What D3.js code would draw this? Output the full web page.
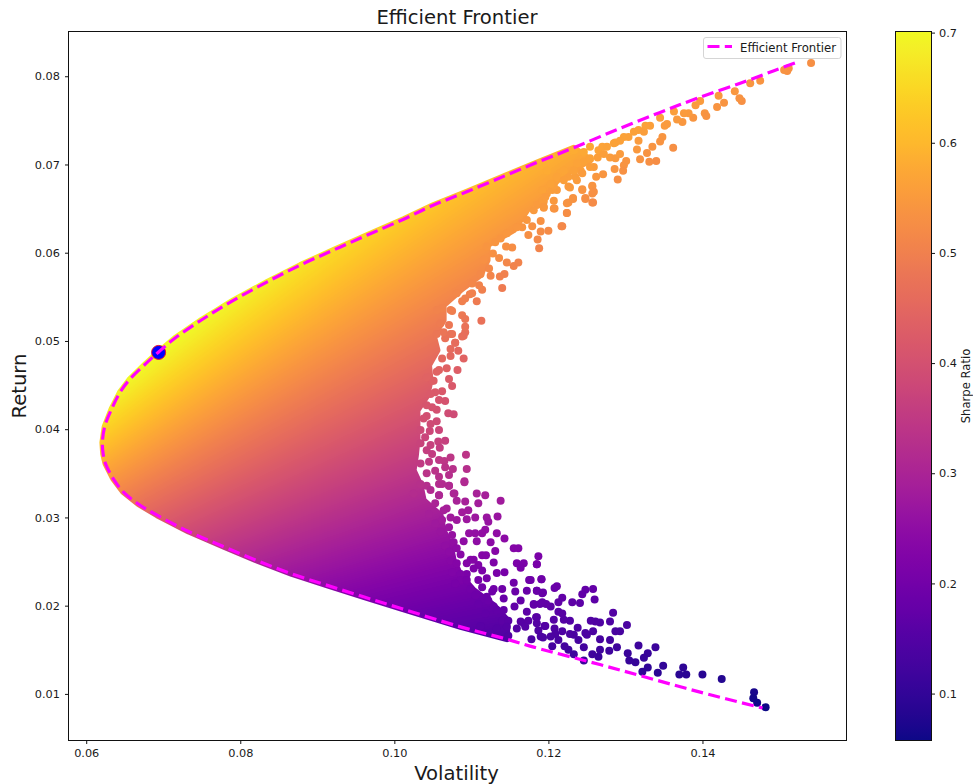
<!DOCTYPE html>
<html><head><meta charset="utf-8">
<script src="https://cdn.jsdelivr.net/npm/d3@7/dist/d3.min.js"></script>
<style>
html,body{margin:0;padding:0;background:#fff}
svg{display:block}
text{font-family:"DejaVu Sans",sans-serif;fill:#1a1a1a}
</style></head><body>
<svg id="c" width="973" height="784"></svg>
<script>
const xTicks=[0.06,0.08,0.10,0.12,0.14];
const yTicks=[0.01,0.02,0.03,0.04,0.05,0.06,0.07,0.08];
const cTicks=[0.1,0.2,0.3,0.4,0.5,0.6,0.7];
const maxSharpe=[0.0694,0.0487];
const frontierVol=[0.1520,0.1492,0.1449,0.1393,0.1345,0.1289,0.1233,0.1190,0.1146,0.1094,0.1051,0.1012,0.0965,0.0921,0.0878,0.0835,0.0791,0.0750,0.0715,0.0694,0.0677,0.0657,0.0644,0.0633,0.0624,0.0621,0.0622,0.0625,0.0635,0.0648,0.0668,0.0692,0.0733,0.0778,0.0822,0.0867,0.0913,0.0960,0.1008,0.1086,0.1146,0.1181,0.1268,0.1322,0.1397,0.1478];
const frontierRet=[0.0815,0.0806,0.0792,0.0775,0.0759,0.07395,0.0719,0.0704,0.0688,0.0669,0.0654,0.0638,0.0620,0.0603,0.0586,0.0567,0.0546,0.0524,0.0503,0.04875,0.0474,0.0457,0.0442,0.0423,0.0403,0.0385,0.0372,0.0361,0.0344,0.0329,0.0315,0.03025,0.0284,0.0267,0.0251,0.0236,0.0223,0.0210,0.0197,0.0176,0.0162,0.0153,0.0133,0.0120,0.0102,0.0084];
const denseEdgeVol=[0.1147,0.1129,0.1103,0.1086,0.1077,0.1073,0.1064,0.1060,0.1038,0.1034,0.1025,0.1028,0.1030,0.1030,0.1030,0.1043,0.1047,0.1045,0.1056,0.1051,0.1064,0.1064,0.1086,0.1112,0.1121,0.1121,0.1155,0.1168,0.1181,0.1199,0.1219,0.1255];
const denseEdgeRet=[0.01835,0.02005,0.02175,0.02345,0.02515,0.02685,0.02855,0.03025,0.03195,0.03365,0.03535,0.03705,0.03875,0.04045,0.04215,0.04385,0.04555,0.04725,0.04895,0.05065,0.05235,0.05405,0.05575,0.05745,0.05915,0.06085,0.06255,0.06425,0.06595,0.06708,0.0688,0.0705];
const pointsLowerRight=[[0.1482,0.0085],[0.1467,0.0102],[0.1466,0.0095],[0.1471,0.0090],[0.1425,0.0117],[0.1400,0.0122],[0.1375,0.0130],[0.1370,0.0122],[0.1379,0.0122],[0.1349,0.0132],[0.1342,0.0124],[0.1329,0.0130],[0.1322,0.0125],[0.1339,0.0153],[0.1329,0.0146],[0.1324,0.0141],[0.1317,0.0155],[0.1313,0.0136],[0.1305,0.0138],[0.1303,0.0146],[0.1289,0.0153],[0.1279,0.0149],[0.1302,0.0178],[0.1293,0.0171],[0.1287,0.0171],[0.1280,0.0161],[0.1280,0.0182],[0.1284,0.0192],[0.1267,0.0181],[0.1261,0.0182],[0.1255,0.0183],[0.1267,0.0162],[0.1258,0.0171],[0.1250,0.0167],[0.1248,0.0169],[0.1267,0.0150],[0.1265,0.0142],[0.1257,0.0145],[0.1246,0.0138],[0.1246,0.0153],[0.1239,0.0161],[0.1238,0.0175],[0.1233,0.0167],[0.1228,0.0168],[0.1233,0.0145],[0.1226,0.0150],[0.1221,0.0154],[0.1205,0.0154],[0.1228,0.0183],[0.1220,0.0184],[0.1213,0.0193],[0.1218,0.0191],[0.1207,0.0184],[0.1208,0.0174],[0.1218,0.0171],[0.1209,0.0168],[0.1213,0.0161],[0.1203,0.0165],[0.1193,0.0164],[0.1195,0.0177],[0.1187,0.0172],[0.1184,0.0187],[0.1185,0.0180],[0.1178,0.0162],[0.1231,0.0204],[0.1241,0.0203],[0.1260,0.0207],[0.1258,0.0219],[0.1248,0.0218],[0.1244,0.0213],[0.1213,0.0204],[0.1218,0.0209],[0.1203,0.0199],[0.1197,0.0202],[0.1189,0.0202],[0.1181,0.0201],[0.1208,0.0220],[0.1211,0.0222],[0.1193,0.0215],[0.1185,0.0217],[0.1191,0.0230],[0.1185,0.0247],[0.1177,0.0229]];
const pointsLowerMiddle=[[0.1091,0.0340],[0.1071,0.0336],[0.1058,0.0338],[0.1077,0.0327],[0.1081,0.0319],[0.1107,0.0327],[0.1118,0.0325],[0.1109,0.0316],[0.1105,0.0300],[0.1138,0.0319],[0.1134,0.0301],[0.1120,0.0300],[0.1122,0.0295],[0.1092,0.0318],[0.1096,0.0308],[0.1088,0.0306],[0.1068,0.0310],[0.1081,0.0297],[0.1094,0.0298],[0.1133,0.0282],[0.1143,0.0276],[0.1118,0.0286],[0.1114,0.0282],[0.1097,0.0282],[0.1105,0.0282],[0.1090,0.0273],[0.1107,0.0273],[0.1125,0.0272],[0.1075,0.0280],[0.1131,0.0262],[0.1155,0.0265],[0.1161,0.0265],[0.1086,0.0258],[0.1114,0.0257],[0.1119,0.0257],[0.1129,0.0249],[0.1099,0.0252],[0.1094,0.0248],[0.1075,0.0238],[0.1094,0.0236],[0.1109,0.0246],[0.1103,0.0242],[0.1114,0.0240],[0.1133,0.0237],[0.1143,0.0238],[0.1159,0.0248],[0.1168,0.0248],[0.1164,0.0243],[0.1187,0.0256],[0.1185,0.0247],[0.1175,0.0229],[0.1191,0.0230],[0.1120,0.0231],[0.1109,0.0229],[0.1155,0.0226],[0.1140,0.0219],[0.1172,0.0217],[0.1185,0.0217],[0.1192,0.0214],[0.1157,0.0216],[0.1164,0.0206],[0.1142,0.0208],[0.1181,0.0202],[0.1192,0.0204],[0.1127,0.0216],[0.1120,0.0210],[0.1129,0.0199],[0.1156,0.0199],[0.1172,0.0193],[0.1142,0.0195],[0.1185,0.0187],[0.1196,0.0177],[0.1164,0.0182],[0.1168,0.0180],[0.1174,0.0183],[0.1112,0.0177],[0.1133,0.0174],[0.1159,0.0174],[0.1190,0.0165],[0.1148,0.0166],[0.1042,0.0336],[0.1058,0.0325],[0.1053,0.0316],[0.1064,0.0308],[0.1045,0.0304],[0.1073,0.0300],[0.1062,0.0297],[0.1053,0.0293],[0.1060,0.0284],[0.1071,0.0289],[0.1077,0.0272],[0.1066,0.0268],[0.1071,0.0261],[0.1081,0.0265],[0.1073,0.0251],[0.1081,0.0248],[0.1086,0.0236],[0.1103,0.0252],[0.1086,0.0229],[0.1079,0.0225],[0.1094,0.0229],[0.1099,0.0219],[0.1105,0.0212],[0.1114,0.0221],[0.1109,0.0202],[0.1122,0.0206],[0.1129,0.0219],[0.1133,0.0195],[0.1118,0.0191],[0.1140,0.0183],[0.1148,0.0183],[0.1146,0.0176],[0.1170,0.0176]];
const pointsWaist=[[0.1092,0.0510],[0.1088,0.0505],[0.1075,0.0508],[0.1066,0.0503],[0.1079,0.0498],[0.1073,0.0491],[0.1083,0.0489],[0.1090,0.0480],[0.1073,0.0483],[0.1062,0.0480],[0.1082,0.0467],[0.1068,0.0469],[0.1055,0.0465],[0.1071,0.0457],[0.1051,0.0455],[0.1075,0.0449],[0.1062,0.0443],[0.1066,0.0432],[0.1058,0.0433],[0.1070,0.0418],[0.1077,0.0417],[0.1055,0.0422],[0.1055,0.0409],[0.1042,0.0415],[0.1058,0.0399],[0.1046,0.0398],[0.1066,0.0387],[0.1057,0.0386],[0.1059,0.0379],[0.1047,0.0382],[0.1093,0.0371],[0.1073,0.0368],[0.1065,0.0364],[0.1058,0.0365],[0.1094,0.0355],[0.1076,0.0355],[0.1066,0.0357],[0.1071,0.0348],[0.1091,0.0341],[0.1071,0.0336],[0.1078,0.0327],[0.1058,0.0467],[0.1049,0.0455],[0.1042,0.0459],[0.1053,0.0442],[0.1047,0.0440],[0.1049,0.0425],[0.1042,0.0427],[0.1038,0.0412],[0.1047,0.0406],[0.1034,0.0399],[0.1040,0.0391],[0.1034,0.0384],[0.1042,0.0376],[0.1049,0.0372],[0.1034,0.0361],[0.1045,0.0363],[0.1053,0.0353],[0.1058,0.0346],[0.1042,0.0350],[0.1062,0.0338],[0.1047,0.0331],[0.1058,0.0325],[0.1034,0.0338],[0.1025,0.0327]];
const pointsUpperMiddle=[[0.1113,0.0523],[0.1088,0.0529],[0.1092,0.0525],[0.1092,0.0516],[0.1090,0.0506],[0.1079,0.0498],[0.1071,0.0518],[0.1064,0.0510],[0.1073,0.0508],[0.1062,0.0537],[0.1075,0.0534],[0.1088,0.0545],[0.1107,0.0545],[0.1098,0.0553],[0.1114,0.0558],[0.1140,0.0560],[0.1125,0.0574],[0.1137,0.0573],[0.1143,0.0576],[0.1123,0.0582],[0.1110,0.0563],[0.1101,0.0565],[0.1155,0.0585],[0.1161,0.0589],[0.1146,0.0589],[0.1136,0.0594],[0.1128,0.0599],[0.1153,0.0606],[0.1145,0.0607],[0.1188,0.0605],[0.1186,0.0615],[0.1174,0.0620],[0.1190,0.0624],[0.1200,0.0625],[0.1179,0.0630],[0.1190,0.0636],[0.1217,0.0630],[0.1166,0.0629],[0.1224,0.0645],[0.1207,0.0650],[0.1226,0.0657],[0.1232,0.0661],[0.1194,0.0651],[0.1190,0.0656],[0.1185,0.0654],[0.1257,0.0657],[0.1248,0.0662],[0.1257,0.0667],[0.1244,0.0672],[0.1257,0.0675],[0.1226,0.0675],[0.1237,0.0682],[0.1211,0.0671],[0.1198,0.0673],[0.1120,0.0607],[0.1131,0.0612],[0.1138,0.0616],[0.1146,0.0622],[0.1159,0.0629],[0.1172,0.0637],[0.1181,0.0648],[0.1194,0.0658],[0.1198,0.0667],[0.1116,0.0592],[0.1112,0.0576],[0.1101,0.0554],[0.1092,0.0548],[0.1081,0.0554],[0.1073,0.0535],[0.1055,0.0535],[0.1060,0.0520],[0.1055,0.0508]];
const pointsTopRight=[[0.1541,0.0815],[0.1510,0.0806],[0.1512,0.0809],[0.1506,0.0807],[0.1475,0.0795],[0.1462,0.0792],[0.1442,0.0783],[0.1451,0.0772],[0.1448,0.0775],[0.1428,0.0770],[0.1419,0.0765],[0.1421,0.0778],[0.1397,0.0772],[0.1391,0.0767],[0.1403,0.0758],[0.1405,0.0755],[0.1388,0.0753],[0.1382,0.0758],[0.1376,0.0758],[0.1374,0.0748],[0.1367,0.0751],[0.1354,0.0746],[0.1351,0.0744],[0.1363,0.0760],[0.1345,0.0753],[0.1332,0.0744],[0.1348,0.0731],[0.1345,0.0726],[0.1335,0.0720],[0.1362,0.0719],[0.1328,0.0713],[0.1319,0.0706],[0.1340,0.0704],[0.1331,0.0703],[0.1301,0.0704],[0.1298,0.0699],[0.1286,0.0695],[0.1297,0.0693],[0.1290,0.0683],[0.1271,0.0689],[0.1262,0.0686],[0.1259,0.0697],[0.1257,0.0676],[0.1259,0.0669],[0.1248,0.0661],[0.1258,0.0657],[0.1232,0.0662],[0.1224,0.0656],[0.1208,0.0650],[0.1224,0.0645],[0.1218,0.0630],[0.1317,0.0727],[0.1315,0.0717],[0.1317,0.0739],[0.1324,0.0737],[0.1311,0.0737],[0.1298,0.0731],[0.1287,0.0725],[0.1280,0.0708],[0.1287,0.0707],[0.1293,0.0712],[0.1264,0.0708],[0.1254,0.0720],[0.1242,0.0693],[0.1246,0.0714],[0.1233,0.0716],[0.1270,0.0720],[0.1235,0.0686],[0.1228,0.0674],[0.1244,0.0671],[0.1205,0.0671],[0.1207,0.0676],[0.1192,0.0659],[0.1265,0.0716],[0.1276,0.0720],[0.1285,0.0724],[0.1293,0.0727],[0.1304,0.0731],[0.1326,0.0744],[0.1246,0.0703],[0.1254,0.0707],[0.1272,0.0712],[0.1237,0.0701],[0.1226,0.0686],[0.1215,0.0690],[0.1254,0.0697],[0.1198,0.0693],[0.1211,0.0686],[0.1220,0.0693],[0.1203,0.0678],[0.1192,0.0671],[0.1196,0.0663],[0.1207,0.0659],[0.1194,0.0652],[0.1220,0.0682],[0.1233,0.0693],[0.1244,0.0690]];

const W=973,H=784;
const plot={l:68.5,r:846.5,t:31.5,b:740.5};
const x=d3.scaleLinear().domain([0.0577,0.1587]).range([plot.l,plot.r]);
const y=d3.scaleLinear().domain([0.00472,0.08507]).range([plot.b,plot.t]);
const cDomain=[0.0574,0.701];
const color=d3.scaleSequential(d3.interpolatePlasma).domain(cDomain);
const cy=d3.scaleLinear().domain(cDomain).range([740.5,31.5]);
const sharpe=(vol,ret)=>ret/vol;

const svg=d3.select("#c");
const defs=svg.append("defs");

// dense body of the cloud: outline, coloured by return / volatility
const n0=frontierVol.indexOf(0.1233), n1=frontierVol.lastIndexOf(0.1146);
const outline=[];
frontierVol.forEach((v,i)=>{ if(i>=n0&&i<=n1) outline.push([v,frontierRet[i]]); });
denseEdgeVol.forEach((v,i)=>outline.push([v,denseEdgeRet[i]]));
const lineGen=d3.line().x(d=>x(d[0])).y(d=>y(d[1]));
defs.append("mask").attr("id","bodyMask").attr("maskUnits","userSpaceOnUse")
  .attr("x",0).attr("y",0).attr("width",W).attr("height",H)
  .append("path").attr("d",lineGen(outline)+"Z")
  .attr("fill","#fff").attr("stroke","#fff").attr("stroke-width",6).attr("stroke-linejoin","round");

const cv=document.createElement("canvas"); cv.width=W; cv.height=H;
const g2=cv.getContext("2d"); const im=g2.createImageData(W,H);
const lut=d3.range(512).map(i=>{const c=d3.rgb(d3.interpolatePlasma(i/511));return [c.r,c.g,c.b];});
for(let py=Math.floor(plot.t);py<plot.b;py++){for(let px=Math.floor(plot.l);px<plot.r;px++){
  const s=sharpe(x.invert(px+.5),y.invert(py+.5));
  const t=Math.max(0,Math.min(1,(s-cDomain[0])/(cDomain[1]-cDomain[0])));
  const c=lut[Math.round(t*511)],k=(py*W+px)*4;
  im.data[k]=c[0];im.data[k+1]=c[1];im.data[k+2]=c[2];im.data[k+3]=255;
}}
g2.putImageData(im,0,0);
svg.append("image").attr("href",cv.toDataURL()).attr("x",0).attr("y",0).attr("width",W).attr("height",H).attr("mask","url(#bodyMask)");

// individually visible portfolios
const points=[].concat(pointsLowerRight,pointsLowerMiddle,pointsWaist,pointsUpperMiddle,pointsTopRight);
svg.append("g").selectAll("circle").data(points).join("circle")
  .attr("cx",d=>x(d[0])).attr("cy",d=>y(d[1])).attr("r",4)
  .attr("fill",d=>color(sharpe(d[0],d[1])));

// max sharpe marker
svg.append("circle").attr("cx",x(maxSharpe[0])).attr("cy",y(maxSharpe[1])).attr("r",7)
  .attr("fill","#0000ff").attr("stroke","#e8102a").attr("stroke-width",1);

// frontier
const fl=d3.line().x((d,i)=>x(d)).y((d,i)=>y(frontierRet[i])).curve(d3.curveCatmullRom);
svg.append("path").attr("d",fl(frontierVol)).attr("fill","none").attr("stroke","#ff00ff")
  .attr("stroke-width",3.2).attr("stroke-dasharray","12,5.3");

// axes
function styleAxis(g){g.selectAll("text").style("font-size","11.3px").attr("fill","#1a1a1a");g.selectAll("line").attr("stroke","#111");g.select(".domain").remove();}
svg.append("g").attr("transform",`translate(0,${plot.b})`)
  .call(d3.axisBottom(x).tickValues(xTicks).tickFormat(d3.format(".2f")).tickSize(3.5).tickPadding(5)).call(styleAxis);
svg.append("g").attr("transform",`translate(${plot.l},0)`)
  .call(d3.axisLeft(y).tickValues(yTicks).tickFormat(d3.format(".2f")).tickSize(3.5).tickPadding(5)).call(styleAxis);
svg.append("rect").attr("x",plot.l).attr("y",plot.t).attr("width",plot.r-plot.l).attr("height",plot.b-plot.t)
  .attr("fill","none").attr("stroke","#111").attr("stroke-width",1);

svg.append("text").attr("x",457).attr("y",24).attr("text-anchor","middle").style("font-size","19.6px").text("Efficient Frontier");
svg.append("text").attr("x",456.5).attr("y",780).attr("text-anchor","middle").style("font-size","19.6px").text("Volatility");
svg.append("text").attr("transform","translate(25.5,386) rotate(-90)").attr("text-anchor","middle").style("font-size","19.6px").text("Return");

// legend
const lg=svg.append("g");
lg.append("rect").attr("x",703.5).attr("y",37.5).attr("width",137.5).attr("height",21).attr("rx",2.5)
  .attr("fill","#fff").attr("fill-opacity",0.85).attr("stroke","#d5d5d5").attr("stroke-width",1);
lg.append("line").attr("x1",707.5).attr("x2",732).attr("y1",46.5).attr("y2",46.5)
  .attr("stroke","#ff00ff").attr("stroke-width",3.2).attr("stroke-dasharray","12,5.3");
lg.append("text").attr("x",740).attr("y",51.5).style("font-size","11.7px").text("Efficient Frontier");

// colorbar
const grad=defs.append("linearGradient").attr("id","cbar").attr("x1",0).attr("x2",0).attr("y1",1).attr("y2",0);
d3.range(0,1.0001,0.02).forEach(t=>grad.append("stop").attr("offset",t).attr("stop-color",d3.interpolatePlasma(t)));
svg.append("rect").attr("x",895.5).attr("y",31.5).attr("width",36).attr("height",709).attr("fill","url(#cbar)")
  .attr("stroke","#111").attr("stroke-width",1);
svg.append("g").attr("transform","translate(931.5,0)")
  .call(d3.axisRight(cy).tickValues(cTicks).tickFormat(d3.format(".1f")).tickSize(3.5).tickPadding(4)).call(styleAxis);
svg.append("text").attr("transform","translate(970,386) rotate(-90)").attr("text-anchor","middle").style("font-size","11.6px").text("Sharpe Ratio");
</script></body></html>
